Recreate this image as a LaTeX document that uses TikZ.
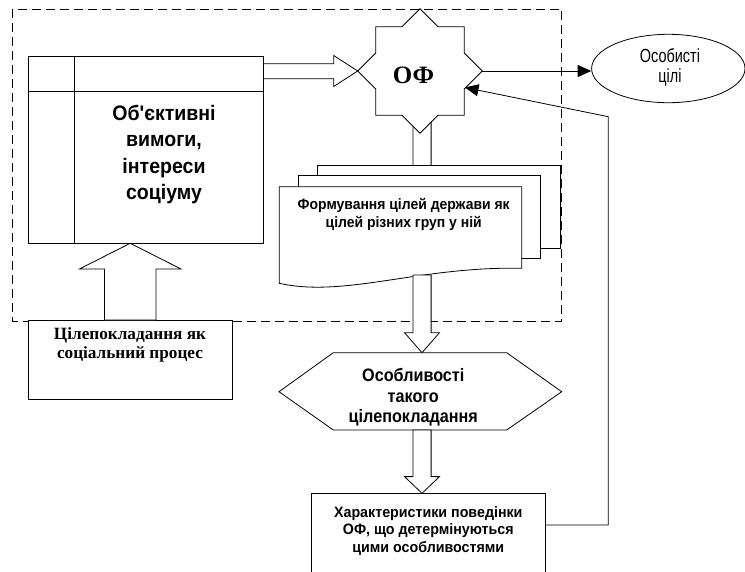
\documentclass[tikz,border=0pt]{standalone}
\usepackage{fontspec}
\setmainfont{Liberation Serif}
\setsansfont{Liberation Sans}
\newfontfamily\tblfont[FakeStretch=0.93]{Liberation Sans}
\newfontfamily\docfont[FakeStretch=0.93]{Liberation Sans}
\newfontfamily\hexfont[FakeStretch=0.9]{Liberation Sans}
\newfontfamily\botfont[FakeStretch=0.95]{Liberation Sans}
\newfontfamily\ellfont[FakeStretch=0.76]{Liberation Sans}
\usetikzlibrary{calc,arrows.meta,shapes.geometric}
\tikzset{
  ln/.style={line width=0.8pt},
  boxstyle/.style={ln,draw,fill=white,inner sep=0pt},
  blk/.style={ln,draw,fill=white,line join=miter},
  blkopen/.style={ln,draw,line join=miter},
  fb/.style={ln,-{Triangle[length=13.5pt,width=12pt]}},
  dashbox/.style={ln,dash pattern=on 9pt off 5pt},
  txt/.style={align=center,inner sep=0pt},
}
% vertical block arrow: style, start, tip, shaft half width, head half width, head length
\newcommand\vblk[6]{%
  \draw[#1] let \p1=(#2), \p2=(#3), \n1={ifthenelse(\y2<\y1,1,-1)} in
    (\x2-#4pt,\y1) -- (\x2-#4pt,\y2+\n1*#6pt) -- (\x2-#5pt,\y2+\n1*#6pt) -- (\x2,\y2)
    -- (\x2+#5pt,\y2+\n1*#6pt) -- (\x2+#4pt,\y2+\n1*#6pt) -- (\x2+#4pt,\y1) -- cycle;}
\begin{document}
\begin{tikzpicture}[x=1pt,y=-1pt]
\useasboundingbox (0,0) rectangle (745,571);
\clip (0,0) rectangle (745,571);
% dashed frame
\draw[dashbox] (12.7,9) rectangle (561.7,321);

% table box
\node[boxstyle,anchor=north west,minimum width=235pt,minimum height=187.6pt] (tbl) at (28.3,55.7) {};
\draw[ln] ($(tbl.north west)+(45.7,0)$) -- ($(tbl.south west)+(45.7,0)$);
\draw[ln] ($(tbl.north west)+(0,36)$) -- ($(tbl.north east)+(0,36)$);
\node[txt,font=\fontsize{21}{26.5}\selectfont\tblfont\bfseries] (tbltext) at (164,154.5)
  {Об'єктивні\\вимоги,\\інтереси\\соціуму};

% star OF
\coordinate (of) at (420,71);
\coordinate (ofW) at (357.7,71);
\coordinate (ofE) at (482.3,71);
\coordinate (ofSE) at (465,87.5);
\coordinate (ofIn) at (422,110);
\coordinate (docN) at (422,186.7);
\vblk{blk}{ofIn}{docN}{9.1}{17.5}{16}
\draw[ln,fill=white,shift={(of)}] (0,-62.3) -- (-18,-44.3) -- (-44.3,-44.3) -- (-44.3,-18)
  -- (-62.3,0) -- (-44.3,18) -- (-44.3,44.3) -- (-18,44.3) -- (0,62.3) -- (18,44.3)
  -- (44.3,44.3) -- (44.3,18) -- (62.3,0) -- (44.3,-18) -- (44.3,-44.3) -- (18,-44.3) -- cycle;
\node[txt,font=\fontsize{25}{28}\selectfont\bfseries] (oftext) at (413.5,75) {ОФ};

% horizontal block arrow table -> OF
\draw[blkopen] let \p1=(tbl.east), \p2=(ofW) in
  (\x1,\y2+7.3pt) -- (\x2-24pt,\y2+7.3pt) -- (\x2-24pt,\y2+15.5pt) -- (\x2,\y2)
  -- (\x2-24pt,\y2-15.5pt) -- (\x2-24pt,\y2-7.8pt) -- (\x1,\y2-7.8pt);

% personal goals ellipse
\node[ln,draw,ellipse,minimum width=153.4pt,minimum height=68.4pt,inner sep=0pt] (ell) at (668.3,68.5) {};
\node[txt,font=\fontsize{19}{20}\selectfont\ellfont] (elltext) at (670,67.5)
  {Особисті\\цілі};
\draw[fb] (ofE) -- (ofE -| ell.west);

% document stack
\draw[ln,fill=white] (317.3,165) rectangle (560.7,248.3);
\draw[ln,fill=white] (298.3,175.7) rectangle (540,258.3);
\draw[ln,fill=white] (279.3,186.7) -- (521.7,186.7) -- (521.7,268.3)
  .. controls (420,266) and (345,298) .. (279.3,283.3) -- cycle;
\node[txt,font=\fontsize{15}{18.3}\selectfont\docfont\bfseries] (doctext) at (403.7,214.5)
  {Формування цілей держави як\\цілей різних груп у ній};

% hexagon
\draw[ln,fill=white] (279,391.7) -- (333.3,352.7) -- (506.7,352.7) -- (561.7,391.7)
  -- (506.7,430) -- (333.3,430) -- cycle;
\coordinate (hexN) at (422,352.7);
\coordinate (hexS) at (422,430);
\node[txt,font=\fontsize{18}{20.5}\selectfont\hexfont\bfseries] (hextext) at (413.3,397.5)
  {Особливості\\такого\\цілепокладання};
\coordinate (docS) at (422,275);
\vblk{blk}{docS}{hexN}{9.1}{17.5}{20}

% bottom box
\node[boxstyle,anchor=north west,minimum width=234.3pt,minimum height=110pt] (bot) at (310.7,493.3) {};
\node[txt,font=\fontsize{15}{17.3}\selectfont\botfont\bfseries] (bottext) at (428.3,531)
  {Характеристики поведінки\\ОФ, що детермінуються\\цими особливостями};
\coordinate (botN) at (422,493.3);
\vblk{blk}{hexS}{botN}{9.1}{17.5}{16.7}

% feedback
\coordinate (fbCorner) at (608.3,116.7);
\draw[fb] (bot.east |- 0,525) -| (fbCorner) -- (ofSE);

% goal setting box
\node[boxstyle,anchor=north west,minimum width=203.4pt,minimum height=79.3pt] (gs) at (28.3,320) {};
\node[txt,font=\fontsize{17.2}{19}\selectfont\bfseries] (gstext) at (130,344.5)
  {Цілепокладання як\\соціальний процес};
\coordinate (gsN) at (130.2,320);
\coordinate (tblS) at (130.2,243.3);
\vblk{blk}{gsN}{tblS}{25.8}{50.8}{25.7}
\end{tikzpicture}
\end{document}
